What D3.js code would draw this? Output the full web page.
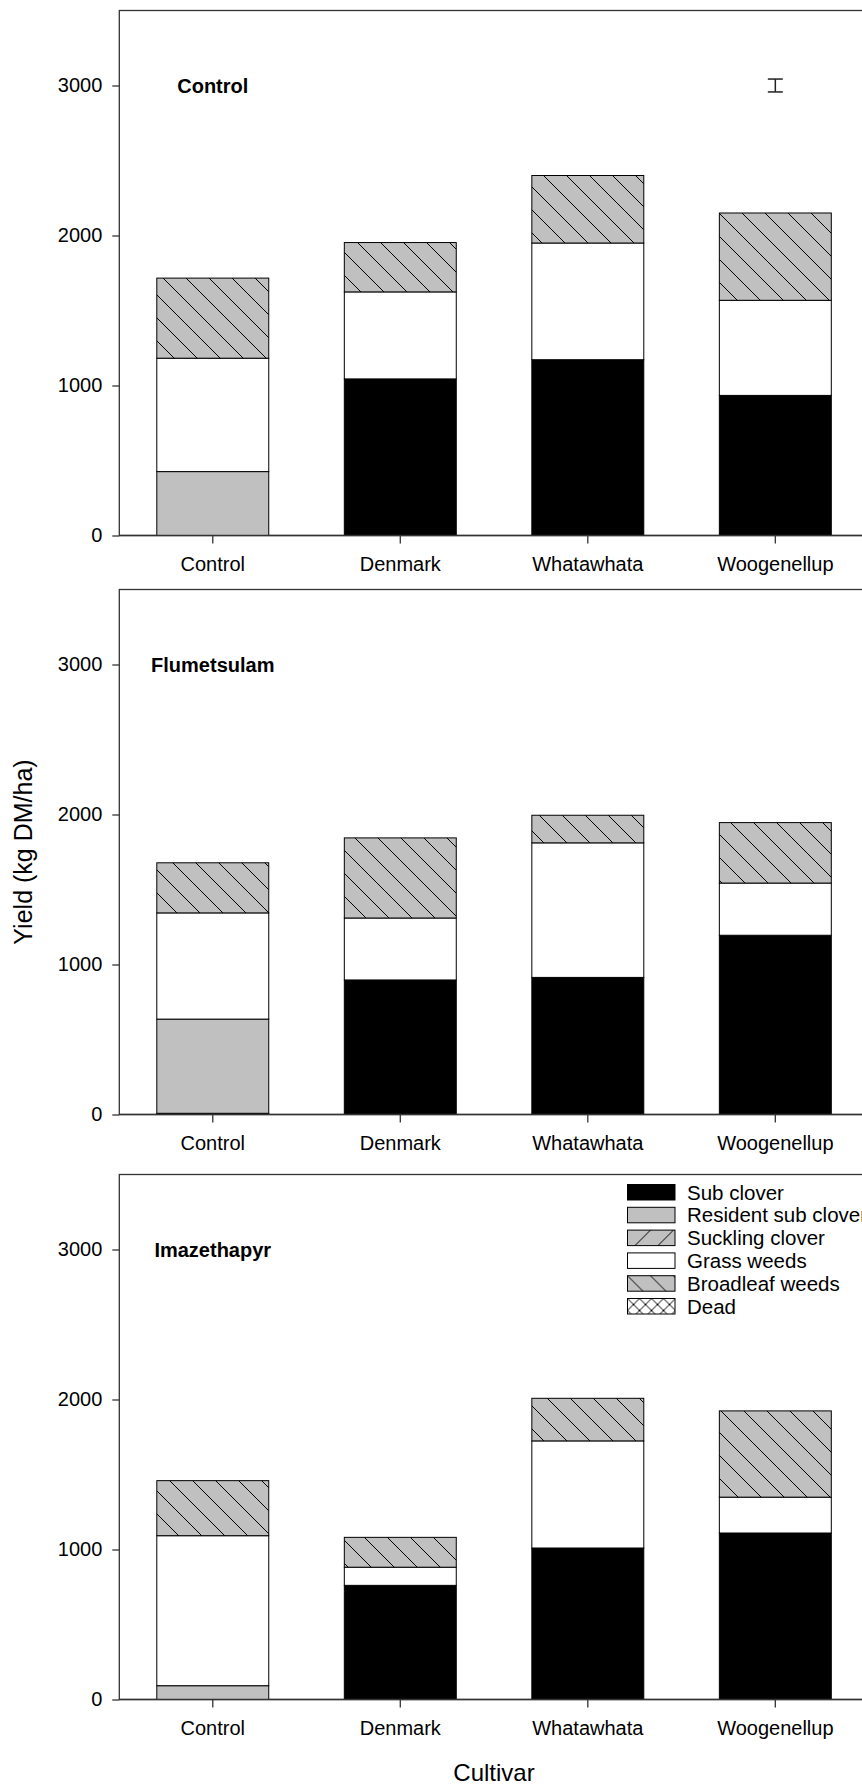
<!DOCTYPE html>
<html>
<head>
<meta charset="utf-8">
<script src="https://cdn.jsdelivr.net/npm/d3@7"></script>
<style>
  body { margin: 0; background: #fff; }
  text { font-family: Arial, "Liberation Sans", sans-serif; fill: #000; }
</style>
</head>
<body>
<div id="chart-area"></div>
<script>
var width = 862,
    height = 1787;

// data (kg DM/ha), one row per herbicide panel
var cultivars = ["Control", "Denmark", "Whatawhata", "Woogenellup"];
var herbicides = ["Control", "Flumetsulam", "Imazethapyr"];
var components = ["Sub clover", "Resident sub clover", "Suckling clover", "Grass weeds", "Broadleaf weeds", "Dead"];

var subClover      = [[0, 1044, 1172, 934], [8, 897, 914, 1195], [0, 761, 1010, 1110]];
var residentClover = [[426, 0, 0, 0], [628, 0, 0, 0], [92, 0, 0, 0]];
var sucklingClover = [[0, 0, 0, 0], [0, 0, 0, 0], [0, 0, 0, 0]];
var grassWeeds     = [[756, 580, 778, 634], [708, 413, 897, 348], [1000, 121, 714, 239]];
var broadleafWeeds = [[534, 329, 450, 582], [334, 534, 184, 403], [367, 199, 284, 575]];
var dead           = [[0, 0, 0, 0], [0, 0, 0, 0], [0, 0, 0, 0]];

var yTicks = [0, 1000, 2000, 3000];
var lsdBar = [2957, 3043];   // error bar shown in the first panel only

var panelTop = [10.5, 589.5, 1174.5],
    panelHeight = 525,
    axisLeft = 119.3;

var svg = d3.select("#chart-area")
    .append("svg")
        .attr("width", width)
        .attr("height", height);

var defs = svg.append("defs");

function hatch(id, bg, d, size) {
    var p = defs.append("pattern")
        .attr("id", id)
        .attr("patternUnits", "userSpaceOnUse")
        .attr("width", size)
        .attr("height", size);
    p.append("rect").attr("width", size).attr("height", size).attr("fill", bg);
    p.append("path").attr("d", d).attr("stroke", "#000").attr("stroke-width", 1).attr("fill", "none");
}
var s = 23;
hatch("back", "#c0c0c0", "M-2,-2L" + (s + 2) + "," + (s + 2) + "M-3," + (s - 3) + "L3," + (s + 3) + "M" + (s - 3) + ",-3L" + (s + 3) + ",3", s);
hatch("fwd", "#c0c0c0", "M-2," + (s + 2) + "L" + (s + 2) + ",-2M-3,3L3,-3M" + (s - 3) + "," + (s + 3) + "L" + (s + 3) + "," + (s - 3), s);
hatch("cross", "#fff", "M0,0L12,12M0,12L12,0", 12);

var fills = ["#000", "#c0c0c0", "url(#fwd)", "#fff", "url(#back)", "url(#cross)"];

var x = d3.scaleBand()
    .domain(cultivars)
    .range([axisLeft, 868.8])
    .paddingInner(0.403)
    .paddingOuter(0.2);

var stack = d3.stack().keys(components);

herbicides.forEach(function(herb, i) {
    var y = d3.scaleLinear()
        .domain([0, 3500])
        .range([panelTop[i] + panelHeight, panelTop[i]]);

    var rows = cultivars.map(function(c, j) {
        return {
            cultivar: c,
            "Sub clover": subClover[i][j],
            "Resident sub clover": residentClover[i][j],
            "Suckling clover": sucklingClover[i][j],
            "Grass weeds": grassWeeds[i][j],
            "Broadleaf weeds": broadleafWeeds[i][j],
            "Dead": dead[i][j]
        };
    });

    var g = svg.append("g");

    // frame: left + top, runs off the right edge like the original
    g.append("rect")
        .attr("x", axisLeft)
        .attr("y", panelTop[i])
        .attr("width", 900 - axisLeft)
        .attr("height", panelHeight)
        .attr("fill", "none")
        .attr("stroke", "#333")
        .attr("stroke-width", 1.3);

    var layers = g.selectAll(".layer")
        .data(stack(rows))
      .enter().append("g")
        .attr("class", "layer")
        .attr("fill", function(d, k) { return fills[k]; });

    layers.selectAll("rect")
        .data(function(d) { return d.filter(function(p) { return p[1] - p[0] > 0; }); })
      .enter().append("rect")
        .attr("x", function(d) { return x(d.data.cultivar); })
        .attr("y", function(d) { return y(d[1]); })
        .attr("width", x.bandwidth())
        .attr("height", function(d) { return y(d[0]) - y(d[1]); })
        .attr("stroke", "#000")
        .attr("stroke-width", 1);

    var yAxis = g.append("g")
        .attr("transform", "translate(" + axisLeft + ",0)")
        .call(d3.axisLeft(y).tickValues(yTicks).tickSize(7).tickPadding(10).tickFormat(d3.format("d")));
    yAxis.select(".domain").remove();
    yAxis.selectAll("line").attr("stroke", "#333").attr("stroke-width", 1.3);
    yAxis.selectAll("text").style("font-size", "20px").attr("fill", "#000");

    var xAxis = g.append("g")
        .attr("transform", "translate(0," + y(0) + ")")
        .call(d3.axisBottom(x).tickSize(8).tickPadding(13.5).tickSizeOuter(0));
    xAxis.select(".domain").attr("d", "M" + axisLeft + ",0H900").attr("stroke", "#333").attr("stroke-width", 1.3);
    xAxis.selectAll("line").attr("stroke", "#333").attr("stroke-width", 1.3);
    xAxis.selectAll("text").style("font-size", "20px").attr("fill", "#000");

    g.append("text")
        .attr("x", x(cultivars[0]) + x.bandwidth() / 2)
        .attr("y", y(3000))
        .attr("dy", "0.35em")
        .attr("text-anchor", "middle")
        .style("font-size", "20px")
        .style("font-weight", "bold")
        .text(herb);

    if (i === 0) {
        var ex = x("Woogenellup") + x.bandwidth() / 2;
        var eb = g.append("g").attr("stroke", "#222").attr("stroke-width", 1.5);
        eb.append("line").attr("x1", ex).attr("x2", ex).attr("y1", y(lsdBar[0])).attr("y2", y(lsdBar[1]));
        lsdBar.forEach(function(v) {
            eb.append("line").attr("x1", ex - 7.5).attr("x2", ex + 7.5).attr("y1", y(v)).attr("y2", y(v));
        });
    }

    if (i === 2) {
        var legend = g.selectAll(".legend")
            .data(components)
          .enter().append("g")
            .attr("class", "legend")
            .attr("transform", function(d, k) { return "translate(627.5," + (1184.5 + k * 22.8) + ")"; });
        legend.append("rect")
            .attr("width", 47.5)
            .attr("height", 15.5)
            .attr("fill", function(d, k) { return fills[k]; })
            .attr("stroke", "#000")
            .attr("stroke-width", 1);
        legend.append("text")
            .attr("x", 59.5)
            .attr("y", 8)
            .attr("dy", "0.35em")
            .style("font-size", "20.5px")
            .text(function(d) { return d; });
    }
});

svg.append("text")
    .attr("transform", "translate(32,852) rotate(-90)")
    .attr("text-anchor", "middle")
    .style("font-size", "25px")
    .text("Yield (kg DM/ha)");

svg.append("text")
    .attr("x", 494)
    .attr("y", 1781)
    .attr("text-anchor", "middle")
    .style("font-size", "24px")
    .text("Cultivar");
</script>
</body>
</html>
